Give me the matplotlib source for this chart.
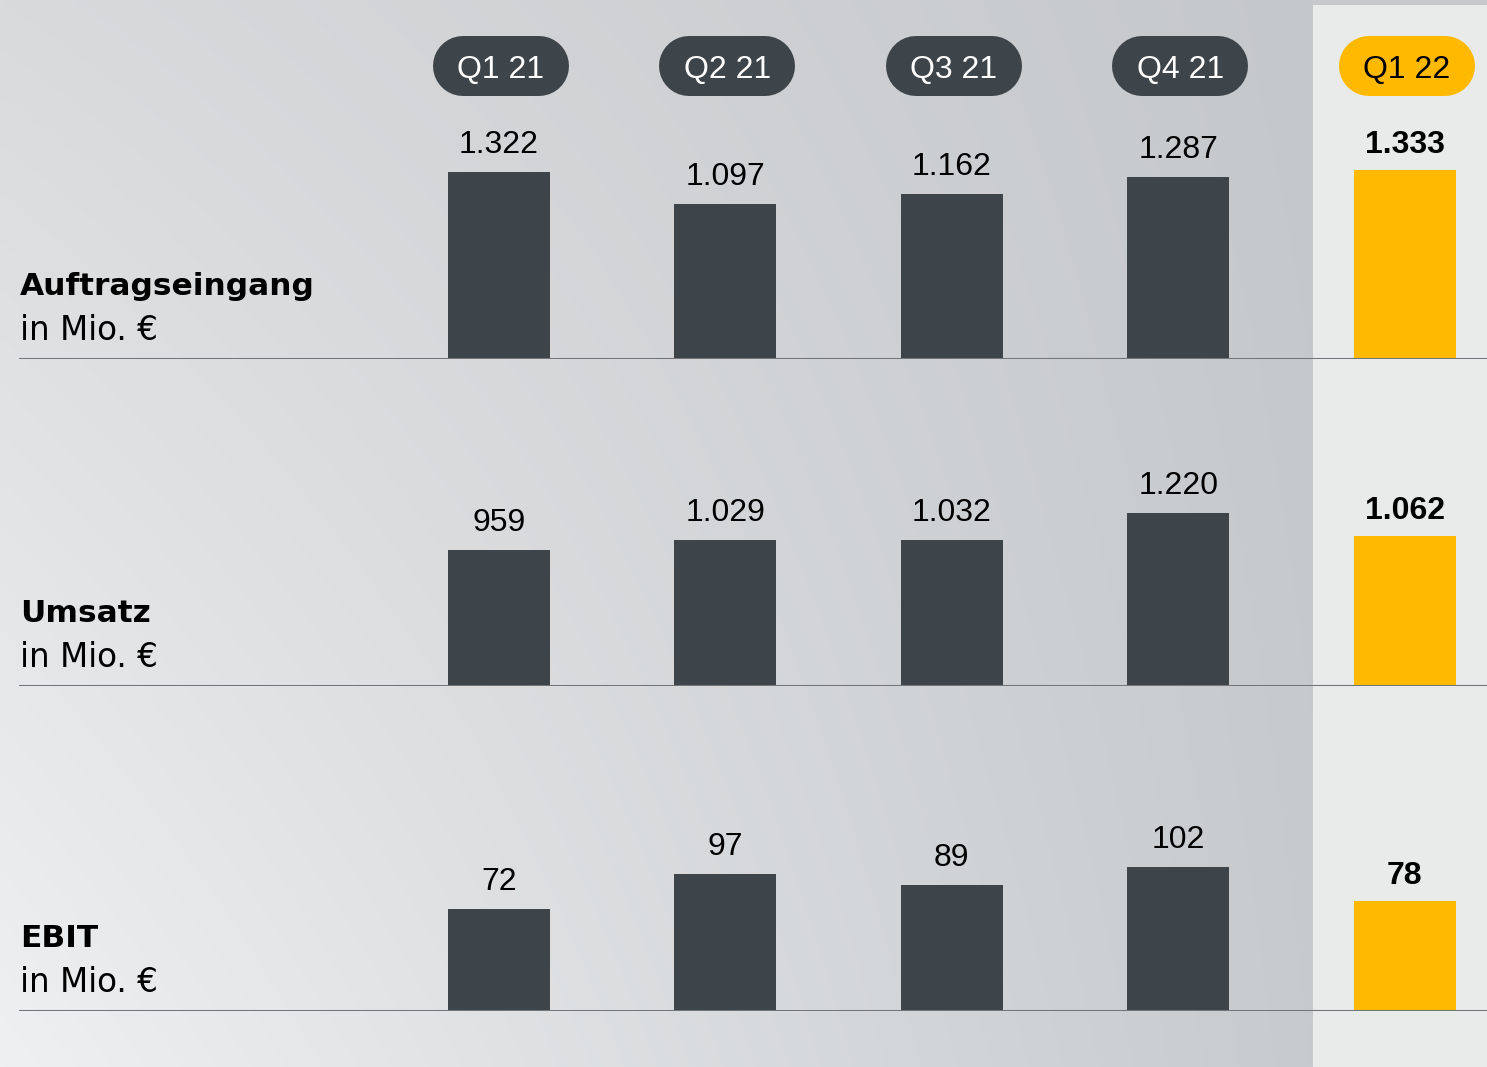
import numpy as np
import matplotlib
matplotlib.use("Agg")
import matplotlib.pyplot as plt

plt.rcParams['font.family'] = ['Liberation Sans', 'DejaVu Sans']

quarters = ["Q1 21", "Q2 21", "Q3 21", "Q4 21", "Q1 22"]
auftrag = [1322, 1097, 1162, 1287, 1333]
umsatz = [959, 1029, 1032, 1220, 1062]
ebit = [72, 97, 89, 102, 78]
auftrag_labels = ["1.322", "1.097", "1.162", "1.287", "1.333"]
umsatz_labels = ["959", "1.029", "1.032", "1.220", "1.062"]
ebit_labels = ["72", "97", "89", "102", "78"]
panel_titles = ["Auftragseingang", "Umsatz", "EBIT"]
unit_label = "in Mio. €"

W, H = 1487, 1067
DARK = "#3d454b"
YELLOW = "#ffb900"
LINE = "#72767b"

fig = plt.figure(figsize=(W / 100, H / 100), dpi=100)

# background gradient
bg = fig.add_axes([0, 0, 1, 1])
bg.set_xlim(0, W)
bg.set_ylim(H, 0)
bg.axis("off")
ny, nx = 200, 200
yy, xx = np.mgrid[0:1:ny * 1j, 0:1:nx * 1j]
tl = np.array([217, 218, 220]) / 255
bl = np.array([239, 240, 241]) / 255
tr = np.array([197, 200, 203]) / 255
br = np.array([199, 203, 206]) / 255
img = ((1 - xx)[..., None] * ((1 - yy)[..., None] * tl + yy[..., None] * bl)
       + xx[..., None] * ((1 - yy)[..., None] * tr + yy[..., None] * br))
bg.imshow(img, extent=[0, 1313, H, 0], aspect="auto", interpolation="bilinear")
bg.add_patch(plt.Rectangle((1313, 0), W - 1313, 5, color="#c6c9cc", lw=0))
bg.add_patch(plt.Rectangle((1313, 5), W - 1313, H - 5, color="#e9ebea", lw=0))

# category geometry
x0_px, step_px = 499, 226.4
xlim = (-x0_px / step_px, (W - x0_px) / step_px)
xs = np.arange(len(quarters))
bar_w = 102 / step_px
px_per_unit = 0.1416

# header pills
hdr = fig.add_axes([0, (H - 96) / H, 1, 60 / H])
hdr.set_xlim(*xlim)
hdr.set_ylim(0, 1)
hdr.axis("off")
half = (136 - 60) / 2 / step_px
for i, q in enumerate(quarters):
    c = YELLOW if i == len(quarters) - 1 else DARK
    tc = "black" if i == len(quarters) - 1 else "white"
    cx = xs[i] + 2.0 / step_px
    hdr.plot([cx - half, cx + half], [0.5, 0.5], color=c, lw=60 * 0.72,
             solid_capstyle="round", clip_on=False)
    hdr.text(cx, (96 - 78.5) / 60, q, ha="center", va="baseline",
             fontsize=23, color=tc)

panels = [
    (auftrag, auftrag_labels, 359, 1.0),
    (umsatz, umsatz_labels, 686, 1.0),
    (ebit, ebit_labels, 1011, 10.0),
]
for (vals, labels, base_px, mult), title in zip(panels, panel_titles):
    top_px = base_px - 250
    ax = fig.add_axes([0, (H - base_px) / H, 1, (base_px - top_px) / H])
    ax.patch.set_alpha(0)
    ax.set_xlim(*xlim)
    ax.set_ylim(0, (base_px - top_px) / (px_per_unit * mult))
    ax.axis("off")
    colors = [DARK] * (len(vals) - 1) + [YELLOW]
    ax.bar(xs, vals, width=bar_w, color=colors, zorder=2)
    ax.axhline(0, xmin=20 / W, xmax=1, color=LINE, lw=2.2, zorder=3)
    for i, (v, lab) in enumerate(zip(vals, labels)):
        last = i == len(vals) - 1
        ax.annotate(lab, (xs[i], v), xytext=(0, (17 if last else 19) * 0.72),
                    textcoords="offset points", ha="center", va="baseline",
                    fontsize=23, color="black",
                    fontweight="bold" if last else "normal")
    fig.text(20 / W, (H - base_px + 64) / H, title, fontsize=22.5,
             fontweight="bold", ha="left", va="baseline", color="black",
             family=["DejaVu Sans"])
    fig.text(20 / W, (H - base_px + 19) / H, unit_label, fontsize=23.5,
             ha="left", va="baseline", color="black",
             family=["DejaVu Sans"])

fig.savefig("out.png", dpi=100)
